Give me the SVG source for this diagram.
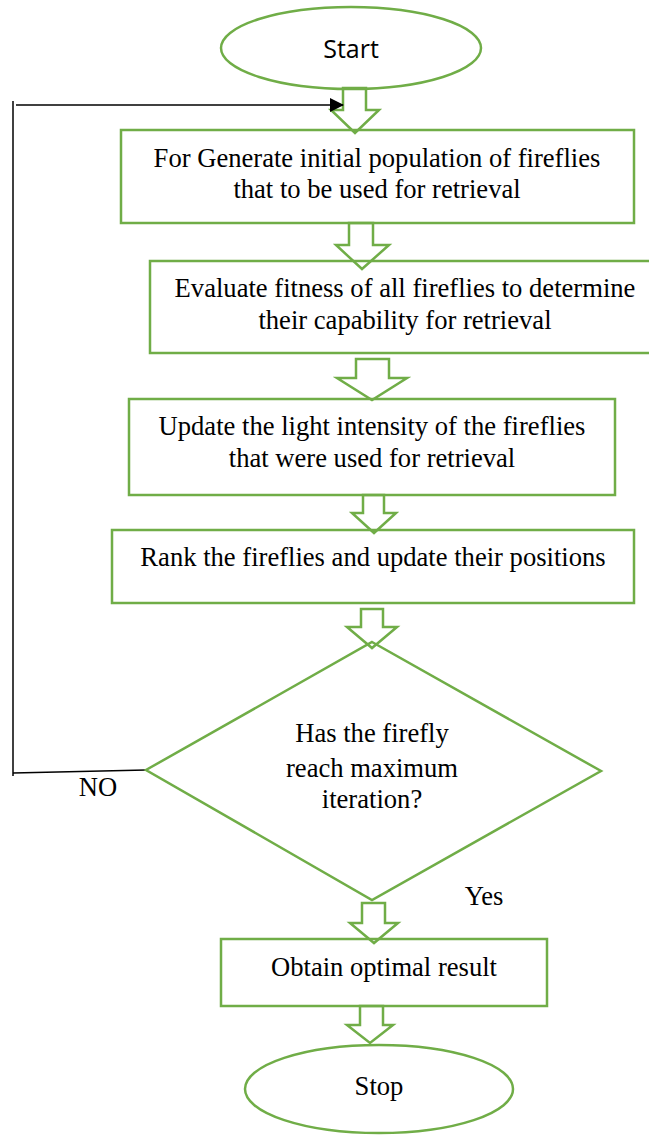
<svg xmlns="http://www.w3.org/2000/svg" width="649" height="1135" viewBox="0 0 649 1135">
<style>
.g{fill:none;stroke:#70AD47;stroke-width:2.5}
.a{fill:#fff;stroke:#70AD47;stroke-width:2.5;stroke-linejoin:miter}
.t{font-family:"Liberation Serif","Times New Roman",serif;font-size:26.6px;fill:#000;text-anchor:middle}
.s{font-family:"Open Sans","Liberation Sans",sans-serif;font-size:25px;fill:#000;text-anchor:middle}
.k{fill:none;stroke:#000;stroke-width:1.5}
</style>
<defs>
<marker id="ah" markerWidth="14" markerHeight="14" refX="13" refY="7" orient="auto" markerUnits="userSpaceOnUse">
<path d="M0,0 L14,7 L0,14 Z" fill="#000"/>
</marker>
</defs>
<rect width="649" height="1135" fill="#fff"/>
<g id="connectors">
<polygon class="a" points="343,88 366,88 366,110 379,110 355,133 331,110 343,110"/>
<polygon class="a" points="349,223 373,223 373,245 389,245 362,269 336,245 349,245"/>
<polygon class="a" points="356,359 389,359 389,378 407,378 372,400 337,378 356,378"/>
<polygon class="a" points="363,495 384,495 384,513 396,513 374,533 352,513 363,513"/>
<polygon class="a" points="361,609 383,609 383,627 397,627 372,648 347,627 361,627"/>
<polygon class="a" points="362,903 385,903 385,923 398,923 374,943 350,923 362,923"/>
<polygon class="a" points="360,1006 383,1006 383,1025 393,1025 370,1043 347,1025 360,1025"/>
<polyline class="k" points="146,770 13,773"/>
<line class="k" x1="13" y1="101" x2="13" y2="776"/>
<line class="k" x1="16" y1="105" x2="343" y2="105" marker-end="url(#ah)"/>
<text class="t" x="98" y="796">NO</text>
<text class="t" x="484" y="905">Yes</text>
</g>
<g id="start">
<ellipse class="g" cx="351" cy="48" rx="130" ry="41"/>
<text class="s" x="351" y="58">Start</text>
</g>
<g id="generate">
<rect class="g" x="121" y="130" width="513" height="93"/>
<text class="t" x="377" y="167">For Generate initial population of fireflies</text>
<text class="t" x="377" y="198">that to be used for retrieval</text>
</g>
<g id="evaluate">
<rect class="g" x="150" y="261" width="520" height="92"/>
<text class="t" x="405" y="297">Evaluate fitness of all fireflies to determine</text>
<text class="t" x="405" y="329">their capability for retrieval</text>
</g>
<g id="update">
<rect class="g" x="129" y="399" width="486" height="96"/>
<text class="t" x="372" y="435">Update the light intensity of the fireflies</text>
<text class="t" x="372" y="467">that were used for retrieval</text>
</g>
<g id="rank">
<rect class="g" x="112" y="530" width="522" height="73"/>
<text class="t" x="373" y="566">Rank the fireflies and update their positions</text>
</g>
<g id="decision">
<polygon class="g" points="372,642 601,771 372,900 146,770"/>
<text class="t" x="372" y="742">Has the firefly</text>
<text class="t" x="372" y="777">reach maximum</text>
<text class="t" x="372" y="808">iteration?</text>
</g>
<g id="result">
<rect class="g" x="221" y="939" width="326" height="67"/>
<text class="t" x="384" y="976">Obtain optimal result</text>
</g>
<g id="stop">
<ellipse class="g" cx="379" cy="1089" rx="134" ry="44"/>
<text class="t" x="379" y="1095">Stop</text>
</g>
</svg>
